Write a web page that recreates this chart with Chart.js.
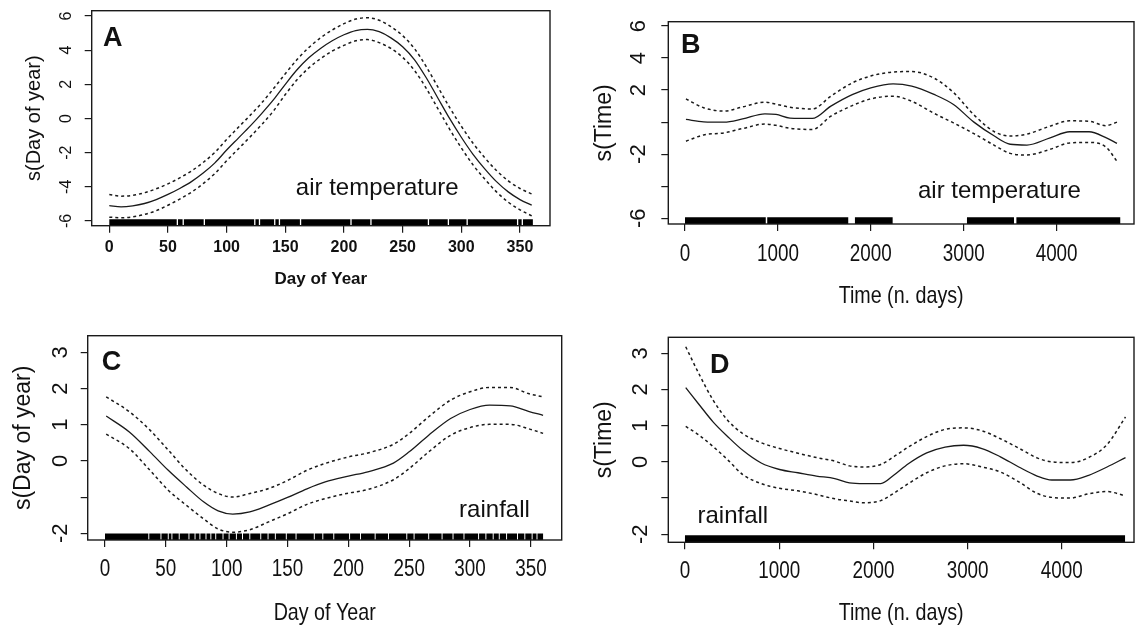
<!DOCTYPE html>
<html>
<head>
<meta charset="utf-8">
<script src="https://cdn.jsdelivr.net/npm/chart.js@4.4.0/dist/chart.umd.min.js"></script>
<style>
html, body { margin: 0; padding: 0; background: #fff; }
#wrap { position: relative; width: 1135px; height: 626px; overflow: hidden; background: #fff; }
#wrap canvas { position: absolute; left: 0; top: 0; }
</style>
</head>
<body>
<div id="wrap">
  <canvas id="chartA" width="1135" height="626"></canvas>
  <canvas id="chartB" width="1135" height="626"></canvas>
  <canvas id="chartC" width="1135" height="626"></canvas>
  <canvas id="chartD" width="1135" height="626"></canvas>
</div>
<script>
// ---- tick values ----
const xTicksDay = [0, 50, 100, 150, 200, 250, 300, 350];
const xTicksTime = [0, 1000, 2000, 3000, 4000];
const yTicksA = [-6, -4, -2, 0, 2, 4, 6];
const yLabelsA = [-6, -4, -2, 0, 2, 4, 6];
const yTicksB = [-6, -4, -2, 0, 2, 4, 6];
const yLabelsB = [-6, -2, 2, 4, 6];
const yTicksCD = [-2, -1, 0, 1, 2, 3];
const yLabelsCD = [-2, 0, 1, 2, 3];

// ---- A: air temperature, s(Day of year) ----
const dayA   = [0, 10, 20, 30, 40, 50, 60, 70, 80, 90, 100, 110, 120, 130, 140, 150, 160, 170, 180, 190,
                200, 210, 220, 230, 240, 250, 260, 270, 280, 290, 300, 310, 320, 330, 340, 350, 360];
const fitA   = [-5.10, -5.18, -5.12, -4.98, -4.75, -4.45, -4.10, -3.70, -3.20, -2.60, -1.85, -1.15, -0.45, 0.30,
                1.10, 2.00, 2.85, 3.55, 4.10, 4.55, 4.90, 5.15, 5.22, 5.08, 4.72, 4.20, 3.45, 2.40, 1.20, 0.00,
                -1.10, -2.10, -2.95, -3.70, -4.30, -4.75, -5.08];
const upperA = [-4.45, -4.55, -4.50, -4.35, -4.12, -3.83, -3.48, -3.08, -2.58, -1.98, -1.23, -0.52, 0.18, 0.92,
                1.75, 2.62, 3.45, 4.15, 4.72, 5.18, 5.55, 5.82, 5.90, 5.75, 5.38, 4.85, 4.10, 3.05, 1.85, 0.65,
                -0.45, -1.45, -2.30, -3.05, -3.65, -4.10, -4.42];
const lowerA = [-5.78, -5.82, -5.76, -5.62, -5.40, -5.08, -4.72, -4.32, -3.82, -3.22, -2.48, -1.78, -1.08, -0.35,
                0.45, 1.40, 2.26, 2.96, 3.50, 3.95, 4.28, 4.55, 4.62, 4.44, 4.10, 3.58, 2.82, 1.78, 0.58, -0.62,
                -1.72, -2.72, -3.55, -4.30, -4.90, -5.35, -5.70];
const rugSpanA = [0, 361];
const rugGapsA = [58, 63, 81, 124, 128, 141, 145, 163, 206, 223, 272, 289, 305, 348, 352];

// ---- B: air temperature, s(Time) ----
const dayB   = [10, 200, 420, 620, 860, 980, 1130, 1370, 1570, 1800, 2000, 2240, 2440, 2680, 2890, 3110,
                3330, 3500, 3680, 3930, 4140, 4350, 4530, 4650];
const fitB   = [0.17, 0.02, 0.00, 0.20, 0.52, 0.48, 0.25, 0.23, 1.00, 1.72, 2.14, 2.39, 2.25, 1.73, 1.10, 0.00,
                -0.87, -1.38, -1.43, -0.98, -0.60, -0.60, -0.97, -1.33];
const upperB = [1.45, 0.90, 0.69, 0.95, 1.25, 1.12, 0.93, 0.82, 1.62, 2.45, 2.88, 3.13, 3.16, 2.75, 1.85, 0.45,
                -0.60, -0.87, -0.75, -0.25, 0.08, 0.05, -0.22, 0.00];
const lowerB = [-1.19, -0.80, -0.67, -0.40, -0.12, -0.20, -0.38, -0.46, 0.37, 1.03, 1.45, 1.62, 1.30, 0.55,
                -0.05, -0.72, -1.45, -1.95, -2.05, -1.70, -1.30, -1.27, -1.55, -2.45];
const rugSegsB = [[0, 869], [885, 1757], [1829, 2235], [3035, 3541], [3567, 4685]];

// ---- C: rainfall, s(Day of year) ----
const dayC   = [1, 20, 37, 52, 67, 81, 93, 105, 119, 134, 150, 166, 181, 200, 216, 237, 250, 266, 284, 300,
                316, 333, 348, 360];
const fitC   = [1.24, 0.80, 0.25, -0.26, -0.72, -1.13, -1.38, -1.47, -1.41, -1.23, -1.01, -0.77, -0.58, -0.42,
                -0.30, -0.06, 0.25, 0.71, 1.17, 1.42, 1.54, 1.52, 1.37, 1.26];
const upperC = [1.77, 1.36, 0.85, 0.30, -0.26, -0.67, -0.90, -1.00, -0.90, -0.77, -0.54, -0.26, -0.07, 0.11,
                0.22, 0.46, 0.76, 1.22, 1.68, 1.91, 2.03, 2.03, 1.86, 1.77];
const lowerC = [0.74, 0.34, -0.26, -0.81, -1.23, -1.60, -1.88, -1.97, -1.90, -1.69, -1.46, -1.20, -1.04, -0.89,
                -0.79, -0.52, -0.21, 0.25, 0.71, 0.92, 1.01, 1.01, 0.89, 0.76];
const rugSpanC = [0, 360];
const rugGapsC = [36, 46, 52, 55, 61, 69, 74, 78, 83, 87, 91, 97, 102, 108, 113, 119, 128, 134, 140, 149, 157,
                  172, 179, 188, 201, 210, 222, 233, 248, 254, 266, 277, 286, 295, 307, 313, 319, 324, 330,
                  339, 345, 351, 355];

// ---- D: rainfall, s(Time) ----
const dayD   = [8, 145, 300, 457, 613, 809, 1004, 1199, 1395, 1590, 1746, 1902, 2078, 2215, 2371, 2566, 2761,
                2957, 3152, 3348, 3543, 3738, 3894, 4090, 4285, 4480, 4676];
const fitD   = [2.05, 1.60, 1.10, 0.69, 0.32, -0.03, -0.21, -0.30, -0.39, -0.46, -0.58, -0.60, -0.60, -0.37,
                -0.05, 0.25, 0.41, 0.46, 0.37, 0.14, -0.14, -0.39, -0.50, -0.50, -0.37, -0.14, 0.12];
const upperD = [3.18, 2.45, 1.70, 1.14, 0.78, 0.53, 0.37, 0.24, 0.12, 0.02, -0.11, -0.14, -0.07, 0.14, 0.41,
                0.70, 0.90, 0.94, 0.86, 0.64, 0.38, 0.11, 0.00, -0.02, 0.12, 0.48, 1.24];
const lowerD = [0.98, 0.75, 0.42, 0.05, -0.35, -0.60, -0.73, -0.80, -0.90, -1.02, -1.08, -1.13, -1.07, -0.87,
                -0.60, -0.30, -0.11, -0.05, -0.14, -0.28, -0.55, -0.87, -0.98, -1.00, -0.88, -0.82, -0.94];
const rugSpanD = [0, 4671];
const rugGapsD = [];

// ---- helpers ----
function gapsToSegs(span, gaps, half) {
    const segs = [];
    let start = span[0];
    gaps.forEach(function(g) {
        segs.push([start, g - half]);
        start = g + half;
    });
    segs.push([start, span[1]]);
    return segs;
}

function segPoints(segs, level) {
    const pts = [];
    segs.forEach(function(s) {
        pts.push({ x: s[0], y: level }, { x: s[1], y: level }, { x: s[1], y: null });
    });
    return pts;
}

function xy(xs, ys) {
    return xs.map(function(v, i) { return { x: v, y: ys[i] }; });
}

// text squeezed horizontally (no narrow font installed)
function squeezeText(ctx, txt, x, y, sx) {
    ctx.save();
    ctx.translate(x, y);
    ctx.scale(sx, 1);
    ctx.fillText(txt, 0, 0);
    ctx.restore();
}

const INK = '#111';
const SANS = '"Liberation Sans", Arial, sans-serif';

const panels = [
    {
        id: 'chartA', area: { l: 91.7, t: 10.7, r: 550, b: 225.7 },
        xMin: -15, xMax: 375.6, yMin: -6.28, yMax: 6.31,
        xTicks: xTicksDay, yTicks: yTicksA, yLabels: yLabelsA,
        x: dayA, fit: fitA, upper: upperA, lower: lowerA,
        rug: gapsToSegs(rugSpanA, rugGapsA, 0.55), rugLevel: -6.09, rugWidth: 6.5,
        letter: 'A', letterAt: [103, 45.7], note: 'air temperature', noteAt: [159, -4.49],
        xTitle: 'Day of Year', yTitle: 's(Day of year)',
        yLabelX: 67, yTitleX: 34, xLabelY: 248, xTitleY: 279, sx: 1,
        fXTick: 'bold 16px ' + SANS, fYTick: '16px ' + SANS,
        fYTitle: '20px ' + SANS, fXTitle: 'bold 17px ' + SANS
    },
    {
        id: 'chartB', area: { l: 668.3, t: 21.7, r: 1134, b: 224 },
        xMin: -180, xMax: 4833, yMin: -6.36, yMax: 6.27,
        xTicks: xTicksTime, yTicks: yTicksB, yLabels: yLabelsB,
        x: dayB, fit: fitB, upper: upperB, lower: lowerB,
        rug: rugSegsB, rugLevel: -6.15, rugWidth: 6.7,
        letter: 'B', letterAt: [681, 53], note: 'air temperature', noteAt: [2508, -4.76],
        xTitle: 'Time (n. days)', yTitle: 's(Time)',
        yLabelX: 639, yTitleX: 605, xLabelY: 255, xTitleY: 296, sx: 0.82,
        fXTick: '23px ' + SANS, fYTick: '22px ' + SANS,
        fYTitle: '23px ' + SANS, fXTitle: '24px ' + SANS
    },
    {
        id: 'chartC', area: { l: 87.7, t: 335.7, r: 561.7, b: 540 },
        xMin: -14.2, xMax: 375.3, yMin: -2.185, yMax: 3.459,
        xTicks: xTicksDay, yTicks: yTicksCD, yLabels: yLabelsCD,
        x: dayC, fit: fitC, upper: upperC, lower: lowerC,
        rug: gapsToSegs(rugSpanC, rugGapsC, 0.4), rugLevel: -2.097, rugWidth: 6.5,
        letter: 'C', letterAt: [101.7, 370], note: 'rainfall', noteAt: [291, -1.55],
        xTitle: 'Day of Year', yTitle: 's(Day of year)',
        yLabelX: 61, yTitleX: 24, xLabelY: 570, xTitleY: 613, sx: 0.82,
        fXTick: '23px ' + SANS, fYTick: '22px ' + SANS,
        fYTitle: '23px ' + SANS, fXTitle: '24px ' + SANS
    },
    {
        id: 'chartD', area: { l: 668.3, t: 337.3, r: 1134, b: 542.3 },
        xMin: -177, xMax: 4766, yMin: -2.221, yMax: 3.442,
        xTicks: xTicksTime, yTicks: yTicksCD, yLabels: yLabelsCD,
        x: dayD, fit: fitD, upper: upperD, lower: lowerD,
        rug: gapsToSegs(rugSpanD, rugGapsD, 0), rugLevel: -2.12, rugWidth: 7,
        letter: 'D', letterAt: [710, 373], note: 'rainfall', noteAt: [133, -1.70],
        xTitle: 'Time (n. days)', yTitle: 's(Time)',
        yLabelX: 641, yTitleX: 605, xLabelY: 572, xTitleY: 613, sx: 0.82,
        fXTick: '23px ' + SANS, fYTick: '22px ' + SANS,
        fYTitle: '23px ' + SANS, fXTitle: '24px ' + SANS
    }
];

const Y_W = 20, X_H = 40;

// box, tick labels, titles and notes (R style)
const rDecor = {
    id: 'rDecor',
    afterDraw: function(chart, args, p) {
        const ctx = chart.ctx;
        const a = chart.chartArea;
        const xs = chart.scales.x, ys = chart.scales.y;
        ctx.save();
        ctx.strokeStyle = '#1a1a1a';
        ctx.lineWidth = 1.4;
        ctx.strokeRect(a.left, a.top, a.right - a.left, a.bottom - a.top);

        ctx.fillStyle = INK;
        ctx.textAlign = 'center';
        ctx.textBaseline = 'middle';

        ctx.font = p.fXTick;
        p.xTicks.forEach(function(v) {
            squeezeText(ctx, String(v), xs.getPixelForValue(v), p.xLabelY, p.sx);
        });

        ctx.font = p.fYTick;
        p.yLabels.forEach(function(v) {
            ctx.save();
            ctx.translate(p.yLabelX, ys.getPixelForValue(v));
            ctx.rotate(-Math.PI / 2);
            ctx.fillText(String(v), 0, 0);
            ctx.restore();
        });

        ctx.font = p.fYTitle;
        ctx.save();
        ctx.translate(p.yTitleX, (a.top + a.bottom) / 2);
        ctx.rotate(-Math.PI / 2);
        ctx.fillText(p.yTitle, 0, 0);
        ctx.restore();

        ctx.font = p.fXTitle;
        squeezeText(ctx, p.xTitle, (a.left + a.right) / 2, p.xTitleY, p.sx);

        ctx.textAlign = 'left';
        ctx.textBaseline = 'alphabetic';
        ctx.font = 'bold 27px ' + SANS;
        ctx.fillText(p.letter, p.letterAt[0], p.letterAt[1]);

        ctx.font = '24px ' + SANS;
        ctx.fillText(p.note, xs.getPixelForValue(p.noteAt[0]), ys.getPixelForValue(p.noteAt[1]));
        ctx.restore();
    }
};

panels.forEach(function(p) {
    const ctx = document.getElementById(p.id);
    const lineBase = { showLine: true, pointRadius: 0, fill: false, cubicInterpolationMode: 'monotone' };

    new Chart(ctx, {
        type: 'scatter',
        data: {
            datasets: [
                {
                    label: 'rug',
                    data: segPoints(p.rug, p.rugLevel),
                    showLine: true, pointRadius: 0, spanGaps: false,
                    borderColor: '#000', borderWidth: p.rugWidth, borderCapStyle: 'butt'
                },
                Object.assign({
                    label: 'fit', data: xy(p.x, p.fit),
                    borderColor: '#1a1a1a', borderWidth: 1.3
                }, lineBase),
                Object.assign({
                    label: 'upper', data: xy(p.x, p.upper),
                    borderColor: '#1a1a1a', borderWidth: 1.5, borderDash: [3, 3]
                }, lineBase),
                Object.assign({
                    label: 'lower', data: xy(p.x, p.lower),
                    borderColor: '#1a1a1a', borderWidth: 1.5, borderDash: [3, 3]
                }, lineBase)
            ]
        },
        options: {
            responsive: false,
            animation: false,
            events: [],
            layout: {
                padding: {
                    left: p.area.l - Y_W,
                    top: p.area.t,
                    right: 1135 - p.area.r,
                    bottom: 626 - p.area.b - X_H
                }
            },
            plugins: {
                legend: { display: false },
                tooltip: { enabled: false },
                rDecor: p
            },
            scales: {
                x: {
                    type: 'linear', min: p.xMin, max: p.xMax,
                    afterBuildTicks: function(s) { s.ticks = p.xTicks.map(function(v) { return { value: v }; }); },
                    afterFit: function(s) { s.height = X_H; },
                    grid: { drawOnChartArea: false, drawTicks: true, tickLength: 7, color: '#1a1a1a', lineWidth: 1.2 },
                    border: { display: false },
                    ticks: { display: false }
                },
                y: {
                    type: 'linear', min: p.yMin, max: p.yMax,
                    afterBuildTicks: function(s) { s.ticks = p.yTicks.map(function(v) { return { value: v }; }); },
                    afterFit: function(s) { s.width = Y_W; },
                    grid: { drawOnChartArea: false, drawTicks: true, tickLength: 7, color: '#1a1a1a', lineWidth: 1.2 },
                    border: { display: false },
                    ticks: { display: false }
                }
            }
        },
        plugins: [rDecor]
    });
});
</script>
</body>
</html>
